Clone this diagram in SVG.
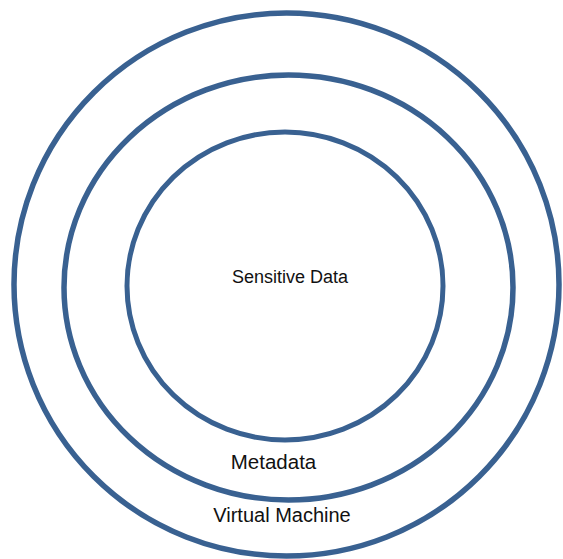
<svg xmlns="http://www.w3.org/2000/svg" width="563" height="559" viewBox="0 0 563 559">
<style>
.ring{fill:none;stroke:#396191;stroke-width:5}
.lbl{font-family:"Liberation Sans",Arial,sans-serif;fill:#111;text-anchor:middle}
</style>
<rect width="563" height="559" fill="#fff"/>
<g id="virtual-machine">
<ellipse class="ring" cx="286.5" cy="284.5" rx="272.5" ry="271.5" style="stroke-width:5.5"/>
<text class="lbl" x="282" y="522" font-size="20">Virtual Machine</text>
</g>
<g id="metadata">
<ellipse class="ring" cx="288.5" cy="287.5" rx="224.5" ry="212.5" style="stroke-width:5.5"/>
<text class="lbl" x="273.5" y="469" font-size="20.5">Metadata</text>
</g>
<g id="sensitive-data">
<ellipse class="ring" cx="285" cy="286" rx="158" ry="154"/>
<text class="lbl" x="290" y="283" font-size="18">Sensitive Data</text>
</g>
<g id="connectors"/>
</svg>
